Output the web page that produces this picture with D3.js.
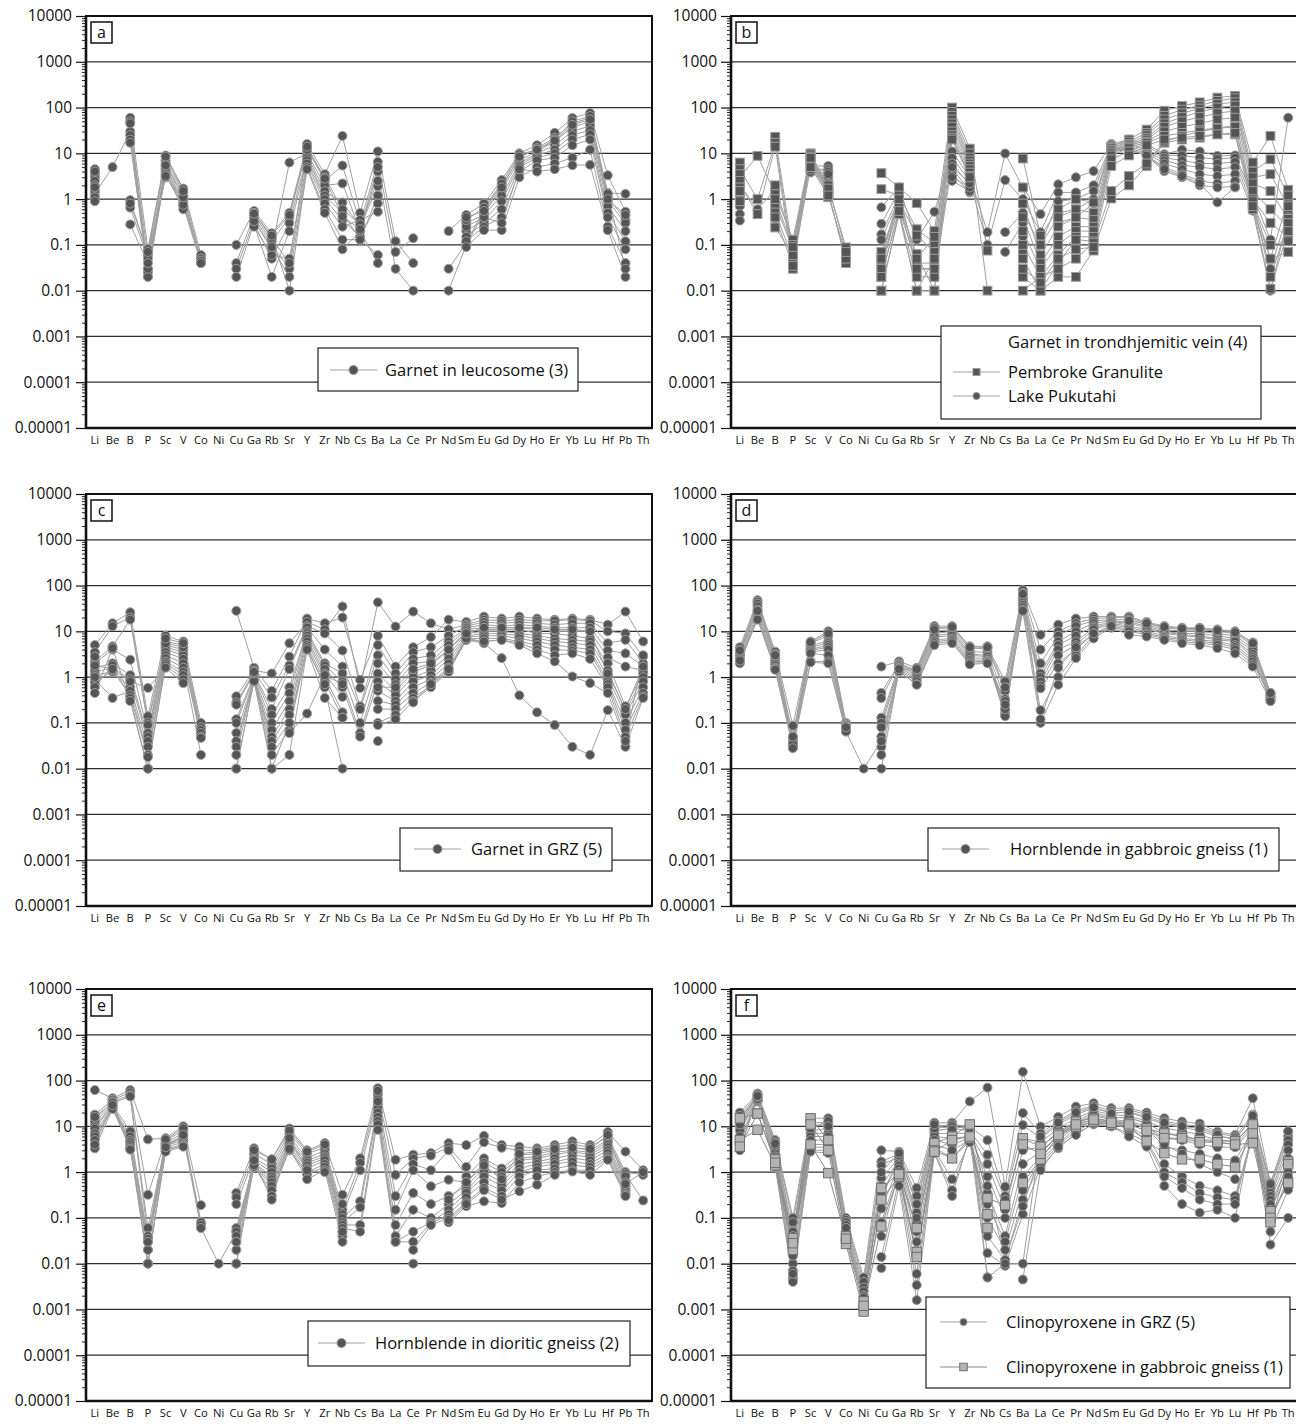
<!DOCTYPE html>
<html>
<head>
<meta charset="utf-8">
<script src="https://cdn.jsdelivr.net/npm/d3@7"></script>
<style>
  body { margin: 0; background: #fff; }
  svg { display: block; }
</style>
</head>
<body>
<svg id="chart" width="1296" height="1425"></svg>
<script>
// Trace-element spider diagrams (mineral / chondrite-normalised), log scale.
const _ = null;

const elements = ["Li","Be","B","P","Sc","V","Co","Ni","Cu","Ga","Rb","Sr","Y","Zr","Nb","Cs",
                  "Ba","La","Ce","Pr","Nd","Sm","Eu","Gd","Dy","Ho","Er","Yb","Lu","Hf","Pb","Th"];

const yTickValues = [10000, 1000, 100, 10, 1, 0.1, 0.01, 0.001, 0.0001, 0.00001];
const yTickLabels = ["10000", "1000", "100", "10", "1", "0.1", "0.01", "0.001", "0.0001", "0.00001"];

// Each row: one analysis, values in the order of `elements` (null = not detected)
const garnetLeucosome = [
  [4.5,_,60,0.08, 9,1.7,0.06,_, 0.1,0.55,0.18,0.5, 16,3.5,24,0.5, 11,0.12,0.04,_, 0.2,0.45,0.8,2.6, 10,15,28,59, 76,3.3,0.53,_],
  [1.3,5,30,0.06, 7,1.4,0.05,_, 0.04,0.45,0.12,0.4, 13,2.5,5.4,0.3, 6.5,0.07,0.14,_, 0.03,0.11,0.6,2.0, 8,13,22,45, 60,1.37,1.3,_],
  [3.5,_,50,0.03, 6,1.2,0.04,_, 0.03,0.35,0.08,6.3, 10,2,2.2,0.2, 4,0.03,0.01,_, 0.01,0.1,0.5,1.6, 7,11,18,38, 48,1.1,0.35,_],
  [3,_,45,0.02, 5,0.9,0.05,_, 0.02,0.3,0.05,0.3, 9,1.5,0.84,0.25, 1.9,_,_,_, _,0.3,0.45,1.2, 6,10,15,30, 40,0.9,0.3,_],
  [2.5,_,25,0.025, 4.5,0.8,0.045,_, _,0.28,0.02,0.2, 8,1.2,0.5,0.13, 1.2,_,_,_, _,0.2,0.35,0.9, 5.5,9,12,25, 32,0.7,0.2,_],
  [2,_,20,0.02, 4,0.7,0.04,_, _,0.25,0.06,0.05, 7,1,0.35,0.15, 0.8,_,_,_, _,0.15,0.3,0.6, 5,8,10,20, 26,0.5,0.12,_],
  [1.5,_,17,0.03, 3.5,0.6,_,_, _,0.4,0.1,0.03, 6,0.8,0.25,0.35, 0.53,_,_,_, _,0.12,0.25,0.4, 4,7,8,15, 20,0.4,0.08,_],
  [1.1,_,0.95,0.06, 3,1,_,_, _,0.5,0.15,0.01, 5,0.6,0.13,0.13, 0.06,_,_,_, _,0.09,0.21,0.21, 3,5,6,8, 12,0.25,0.04,_],
  [0.9,_,0.65,0.05, 3.2,0.75,_,_, _,0.33,0.09,0.02, 4.5,0.5,0.08,0.2, 0.04,_,_,_, _,0.25,0.4,0.3, 4.5,4,4.5,5.5, 5.6,0.21,0.02,_],
  [4,_,0.28,0.04, 5.5,1.1,_,_, _,0.5,0.14,0.04, 12,3,0.6,0.28, 2.5,_,_,_, _,0.35,0.65,2.2, 9.5,12,20,50, 65,1.3,0.03,_],
  [1.8,_,0.8,0.07, 8.5,1.5,_,_, _,0.48,0.16,0.45, 14,2.8,0.42,0.22, 5,_,_,_, _,0.4,0.55,1.8, 8.5,12,19,42, 55,1,0.45,_]
];

const garnetPembroke = [
  [3,8.8,1.3,0.13, 10,1.8,0.088,_, 3.7,1.8,0.82,0.2, 100,12.7,0.075,_, 7.7,0.16,0.6,1.0, 0.85,14,20,33, 85,108,130,165, 180,6.3,24,1.6],
  [6.3,_,23,0.07, 9,1.2,0.06,_, 1.65,1.2,0.22,0.11, 80,10,0.01,_, 1.8,0.1,0.4,0.6, 0.5,13,18,28, 66,90,110,140, 160,4,7.4,1.2],
  [4.5,1,17,0.045, 8,1.5,0.04,_, 0.07,0.9,0.16,0.07, 66,8.1,_,_, 0.8,0.06,0.25,0.4, 0.35,12,16,25, 55,75,95,120, 130,3,3.5,0.7],
  [2.1,0.47,14,0.03, 7.4,1.3,0.05,_, 0.04,0.7,0.063,0.01, 55,7,_,_, 0.4,0.04,0.15,0.25, 0.25,11,15,22, 45,62,80,100, 110,2.2,1.5,0.37],
  [3.5,_,2,0.1, 9.5,2,0.07,_, 0.02,0.6,0.04,0.04, 45,6,_,_, 0.2,0.03,0.1,0.2, 0.2,10,14,20, 38,50,62,75, 85,1.5,0.6,0.25],
  [2.5,_,0.78,0.08, 8.5,1.6,_,_, 0.01,0.5,0.02,0.02, 38,5.3,_,_, 0.1,0.02,0.06,0.15, 0.15,9,13,18, 30,38,45,55, 60,1,0.3,0.15],
  [1.8,_,0.51,0.05, 7,1.4,_,_, 0.01,0.47,0.01,0.05, 30,4.5,_,_, 0.05,0.01,0.04,0.13, 0.12,7.4,11,17, 24,28,32,36, 40,0.8,0.1,0.12],
  [1.2,_,0.24,0.06, 6.5,1.1,_,_, 0.03,0.8,0.03,0.03, 25,3.8,_,_, 0.02,0.01,0.02,0.02, 0.075,1.03,2,5.3, 17,20,22,26, 26,0.6,0.05,0.07],
  [0.9,_,1.0,0.09, 8,1.7,_,_, 0.05,1.0,0.05,0.15, 22,3.2,_,_, 0.01,0.02,0.03,0.05, 0.11,1.5,3.2,6, 18,24,30,35, 38,0.9,0.02,0.3],
  [1.5,_,0.4,0.035, 5,1.2,_,_, 0.02,0.55,0.01,0.01, 20,3,_,_, 0.03,0.015,0.05,0.08, 0.09,5.3,9,15, 20,22,24,26, 28,0.7,0.011,0.2]
];

const garnetPukutahi = [
  [2,0.6,1.6,_, 5.3,5.3,_,_, 0.66,1.8,0.13,0.53, 11,3,0.19,9.9, 1.8,0.47,2.1,3, 4.1,16,20,16, 9.6,12,11,8.8, 9,1.2,0.13,60],
  [1.4,_,0.37,_, 3.8,3.8,_,_, 0.29,1.5,0.03,0.03, 8,2.5,0.1,2.6, 1,0.19,1.4,1.4, 2,15,18,14, 9,9,8,7.5, 8,0.9,0.05,1],
  [1,_,_,_, 4.5,4.5,_,_, 0.17,1.2,_,0.02, 6,2,_,0.19, 0.5,0.1,0.9,1, 1.5,14,16,12, 8,7,6,6, 6.5,0.7,0.03,0.5],
  [0.7,_,_,_, 4,2.5,_,_, 0.13,1,_,_, 4.5,1.6,_,0.07, 0.3,_,0.5,0.6, 1,13.4,14,11, 7,5.5,5,4.5, 5,0.56,0.01,0.4],
  [0.47,_,_,_, 4.2,3,_,_, 0.05,1.3,_,_, 3.5,1.4,_,_, 0.15,_,0.3,0.4, 0.8,13,13,10, 6,4.5,3.5,3.2, 3.5,_,_,_],
  [0.34,_,_,_, 3.9,2.2,_,_, 0.03,1.1,_,_, 2.5,1.5,_,_, 0.07,_,_,_, _,12,12.3,9, 5,3.5,2.5,2.2, 2.5,_,_,_],
  [1.2,_,_,_, 4.8,4,_,_, _,1.6,_,_, 3,1.8,_,_, 0.03,_,_,_, _,12.5,12.5,8.8, 4.1,3,2,1.8, 1.9,_,_,_],
  [0.9,_,_,_, 4.4,3.5,_,_, _,1.4,_,_, 5,2.2,_,_, 0.5,_,_,_, _,11,12,9, 4.5,3.2,2.2,0.85, 1.8,_,_,_]
];

const garnetGRZ = [
  [5,15,26,0.14, 8,6,0.1,_, 28,1.6,0.5,2.8, 19,15,20,0.87, 8,1.7,4.5,7.5, 18,16,21,19, 21,19,18,19, 18,14,27,6],
  [3.5,13,20,0.1, 6,5,0.08,_, 0.38,1.4,1.2,5.5, 16,11,35,0.58, 43,12.7,27,15, 11,14,18,17, 18,17,17,18, 17,10,9,2.8],
  [2.2,4.7,18,0.09, 5,4,0.07,_, 0.28,1.3,0.36,1.8, 13,9,3.8,0.23, 5,1.2,3.5,4.5, 8,13,16,15, 16,15,14,15, 15,5.5,6.5,2],
  [2,4,2.4,0.06, 4.5,3.5,0.06,_, 0.25,1.2,0.2,1.5, 12,4,1.7,0.2, 3,0.9,2.5,3, 6,12,14,13, 14,13,12,12, 12,3.8,3.3,1.7],
  [1.6,2,1.1,0.05, 4,3,0.05,_, 0.12,1.1,0.15,0.6, 10,2,1.2,0.1, 2,0.7,2,2.2, 5,11,12,12, 12,11,10,10, 10,2.7,1.7,1.4],
  [1.3,1.6,0.9,0.04, 3.5,2.5,0.047,_, 0.1,1,0.1,0.45, 9,1.8,0.8,0.06, 1.2,0.5,1.3,1.8, 4,10,11,11, 11,9,9,8, 7,2,0.23,1.2],
  [1.1,1.3,0.6,0.03, 3,2,0.02,_, 0.06,0.9,0.07,0.3, 8,1.5,0.6,0.05, 0.8,0.4,1,1.4, 3,9,10,10, 9,8,7,6.5, 6,1.4,0.18,1],
  [0.9,0.35,0.5,0.02, 2.6,1.6,_,_, 0.04,0.8,0.05,0.2, 7,1.2,0.37,_, 0.5,0.3,0.8,1.1, 2.5,8,9,9, 8,7,6,5.5, 5,1,0.15,0.8],
  [0.75,1.4,0.4,0.018, 2.2,1.3,_,_, 0.03,1.0,0.04,0.15, 6,1,0.17,_, 0.3,0.25,0.6,0.9, 2,7.5,8,8, 7,6,5,4.5, 4,0.8,0.1,0.6],
  [0.6,1.8,0.35,0.01, 2,1.1,_,_, 0.02,0.95,0.03,0.1, 5,0.8,0.13,_, 0.2,0.2,0.45,0.75, 1.6,7,7,7, 6,5,4,3.8, 3.3,0.7,0.07,0.45],
  [0.45,4.3,0.3,0.01, 1.8,0.9,_,_, 0.01,0.85,0.02,0.07, 4.5,0.6,0.01,_, 0.1,0.15,0.35,0.65, 1.4,6.5,6,6.5, 5.5,4,3,3.3, 2.5,0.6,0.05,0.38],
  [1.8,1.5,0.8,0.58, 1.6,0.74,_,_, 0.01,0.82,0.01,0.02, 4,0.35,0.13,_, 0.09,0.12,0.3,0.6, 1.3,6.5,5.5,2.6, 0.4,0.17,0.09,0.03, 0.02,0.19,0.03,0.35],
  [2.8,_,_,_, 5.5,4.5,_,_, _,1.2,0.01,0.1, 4,0.7,_,_, 0.04,_,0.28,0.7, 1.5,7,6,6.5, 5,3.3,2.2,1.03, 0.74,0.45,0.04,3],
  [1,_,_,_, 7,5.5,_,_, _,1.3,_,0.06, 0.16,1.1,0.7,_, 0.6,0.6,1.5,2, 4,9,12,12, 12,12,11,11, 10,1.2,0.2,1.7]
];

const hornblendeGabbroic = [
  [4.5,48,3.6,0.087, 6,10,0.1,_, 1.7,2.2,1.6,13, 13,4.7,4.7,0.8, 80,8.4,14,19, 21,21,21,16, 13,12,12,11, 10,5.7,0.45,_],
  [4,44,3.2,0.05, 5.5,8,0.095,_, 0.45,2,1.4,12, 12,4.2,4.2,0.5, 70,4,10,15, 19,20,20,15, 12,11,11,10, 9,5,0.4,_],
  [3.5,40,2.8,0.04, 5,6,0.09,_, 0.35,1.9,1.3,10, 11,3.6,3.5,0.33, 60,2,8,13, 17,18,18,14, 11,10,10,9, 8,4.3,0.38,_],
  [3.2,35,2.5,0.035, 4.5,5.5,0.085,_, 0.13,1.8,1.2,9, 10,3.2,3,0.2, 55,1.2,6,10, 15,17,16,13, 10,9,9,8, 7,3.8,0.35,_],
  [3,30,2.2,0.03, 4,5,0.08,_, 0.1,1.7,1.1,8, 9,3,2.8,0.17, 48,1,5,8, 13,16,15,12, 9.5,8.5,8,7, 6.5,3.2,0.32,_],
  [2.7,25,2,0.03, 3.8,4.5,0.075,_, 0.08,1.6,1,7.5, 8,2.7,2.5,0.15, 42,0.8,4,6, 12,15,13,11, 9,8,7.5,6.5, 6,2.8,0.3,_],
  [2.5,22,1.8,0.045, 3.5,4,0.07,_, 0.05,1.5,0.9,6.5, 7,2.4,2.3,0.14, 38,0.65,3,5, 11,14,12,10, 8,7,6.5,6, 5,2.5,0.33,_],
  [2.2,20,1.6,0.04, 3.3,3,0.068,_, 0.03,1.4,0.8,6, 6.5,2.2,2.2,0.2, 34,0.57,2,4, 9,13,11,9, 7.5,6.5,6,5.5, 4.5,2.2,0.36,_],
  [2,19,1.5,0.035, 2.2,2.2,0.065,_, 0.02,1.3,0.7,5.5, 6,2,2.1,0.3, 30,0.19,1,3, 8,12.5,10,8.5, 7,6,5.5,5, 4,1.9,0.42,_],
  [2.3,18,1.45,0.028, 2.1,2,0.065,0.01, 0.04,1.35,0.68,5, 5.5,1.9,2,0.25, 28,0.1,0.68,2.6, 7,12,8.4,7.7, 6.5,5.5,5,4.3, 3.3,1.7,0.3,_],
  [3.8,28,3,0.05, 5.8,9,0.08,_, 0.01,1.5,1.5,11, 12.5,4.5,4.5,0.6, 65,0.12,1.6,4.5, 9,13,17,15, 12.5,11.5,11.5,10.5, 9.5,5.5,0.45,_]
];

const hornblendeDioritic = [
  [62,41,62,5.2, 5.5,10,0.19,_, 0.35,3.3,1.9,9, 3,4.3,0.32,2, 68,1.86,2.4,2.6, 4.3,3.9,6.2,3.9, 3.6,3.3,3.9,4.7, 3.9,7.5,2.8,1.1],
  [18,38,55,0.32, 5,8,0.08,_, 0.28,2.5,1.5,7, 2.5,3.5,0.15,1.6, 50,0.87,2,2.3, 3.5,1.3,4.5,3.4, 3,3,3.5,4, 3.5,6,1,0.87],
  [14,35,48,0.06, 4.5,7,0.07,_, 0.2,2,1.2,6, 2,3,0.12,1.1, 40,0.3,1.5,1.1, 3,0.8,2,1.2, 2.4,2.5,3,3.5, 3,5,0.9,0.24],
  [12,32,45,0.04, 4.2,6,0.06,0.01, 0.05,1.8,1,5, 1.8,2.5,0.1,0.23, 30,0.15,1.1,0.49, 0.68,0.6,1.6,1, 2,2.2,2.7,3, 2.7,4.5,0.8,_],
  [10,30,7.7,0.035, 4,5.5,_,_, 0.06,1.6,0.8,4.5, 1.6,2.2,0.08,0.17, 25,0.07,0.35,0.2, 0.3,0.5,1.2,0.8, 1.8,2,2.4,2.8, 2.4,4,0.6,_],
  [9,28,6,0.03, 3.8,5,_,_, 0.05,1.5,0.7,4, 1.4,2,0.07,0.07, 20,0.04,0.15,0.1, 0.2,0.4,1,0.6, 1.5,1.7,2,2.4, 2.1,3.5,0.5,_],
  [7,27,5,0.02, 3.5,4.5,_,_, 0.04,1.4,0.6,3.6, 1.2,1.8,0.06,0.05, 16,0.03,0.05,0.08, 0.15,0.35,0.8,0.5, 1.2,1.5,1.7,2, 1.8,3,0.45,_],
  [6,26,4.5,0.01, 3.2,4,_,_, 0.03,1.4,0.5,3.3, 1,1.5,0.05,_, 13,0.03,0.03,0.075, 0.12,0.28,0.6,0.4, 1,1.3,1.5,1.7, 1.5,2.6,0.4,_],
  [5,25,4,0.01, 3,3.8,_,_, 0.02,1.3,0.4,3, 0.9,1.3,0.04,_, 11,_,0.02,0.07, 0.1,0.22,0.45,0.3, 0.8,1.1,1.2,1.4, 1.3,2.2,0.35,_],
  [3.3,24,3.5,0.01, 2.8,3.6,_,_, 0.01,1.4,0.3,3.2, 0.7,1.1,0.03,_, 8.4,_,0.01,_, 0.08,0.18,0.23,0.21, 0.6,0.8,1,1.1, 1.1,2,0.32,_],
  [16,33,3.2,0.02, 5.2,9,_,_, 0.01,3,1.9,8, 2.8,4,0.05,_, 60,_,_,_, 0.09,0.2,0.4,0.25, 0.38,0.53,0.87,1.03, 0.87,1.86,0.3,_],
  [4,29,3.1,0.03, 3.5,6.5,_,_, 0.03,1.8,0.25,5.5, 1.1,1,0.2,_, 35,_,_,_, 0.25,0.6,1.4,0.7, 2.5,2.8,3.2,3.4, 3.2,6.5,0.55,1]
];

const cpxGRZ = [
  [20,52,5,0.1, 15,15,0.1,0.005, 3,2.8,0.45,12, 12,35,70,0.48, 155,9.9,16,27, 32,25,25,20, 15,12.7,11.5,7.6, 6.5,41,0.58,7.6],
  [17,48,4.5,0.08, 12,12,0.09,0.004, 1.7,2.5,0.3,10, 11,10,5,0.3, 19.5,7,13,22, 28,22,23,18, 13,11,10,7, 6,18,0.5,6],
  [14,45,4,0.05, 10,11,0.08,0.003, 1.4,2.2,0.2,8, 9,8,2.4,0.25, 10.7,5.5,11,18, 25,20,20,15, 11,9.5,8,6, 5.5,15,0.45,5],
  [12,42,3.5,0.03, 8,9,0.07,0.0025, 0.75,2,0.13,7, 7,7,1.5,0.15, 5.5,4.5,9,15, 22,18,17,13, 9,8,6.5,5, 4.5,12,0.35,4],
  [10,40,3,0.02, 7,7,0.06,0.002, 0.5,1.8,0.08,6, 5.5,6,0.8,0.1, 3,3.5,7.5,13, 20,16,15,12, 7,6.5,5,4.5, 4,10,0.3,3],
  [9,38,2.6,0.01, 6,6,0.05,0.002, 0.35,1.6,0.05,5, 4,5.5,0.35,0.04, 1.5,2.8,6,11, 17,14,13,10, 5.5,5,4,3.5, 3.5,9,0.25,2],
  [8,36,2.2,0.007, 5,5,0.045,0.0018, 0.16,1.4,0.03,4, 3,5,0.2,0.03, 0.8,2.2,5,10, 15,13,12,9, 3.6,3,2.5,2, 1.8,8,0.2,1.5],
  [6,35,2,0.005, 4,4,0.04,_, 0.08,1.2,0.015,3.5, 2,4.8,0.1,0.02, 0.4,1.8,4.2,9, 13,12,10,6, 1.5,0.8,0.5,0.4, 0.3,7,0.15,1],
  [4.5,37,1.6,0.0045, 3.5,3.5,_,_, 0.04,1,0.006,3, 0.7,4.5,0.04,0.012, 0.25,1.5,3.8,8, 12,11,9,5, 1,0.6,0.35,0.28, 0.25,6,0.1,0.6],
  [3.5,39,1.4,0.004, 3,3,_,_, 0.014,0.7,0.0034,2.8, 0.4,5.5,0.017,0.009, 0.12,1.3,3.3,7, 11,10,7,4.5, 0.8,0.45,0.25,0.2, 0.2,7.5,0.05,0.41],
  [3,44,1.3,0.006, 2.8,2.6,_,_, 0.008,0.5,0.0016,2.6, 0.3,6,0.005,_, 0.0045,1.1,3.6,6.5, 11.5,10,6,3.6, 0.5,0.2,0.13,0.15, 0.1,9,0.026,0.1],
  [11,50,3.8,0.015, 9,13,0.06,_, 0.25,2.3,0.1,9, 10,9,0.5,0.012, 0.18,2.5,6.5,12, 18,15,16,11, 4,2.5,1.5,1, 0.7,14,0.08,0.8],
  [15,46,4.2,0.04, 11,10,_,_, 1,2.6,0.2,11, 8.5,11,0.005,0.01, 0.01,6,12,20, 26,19,21,16, 12,10,9,6.5, 5,17,0.55,7.8]
];

const cpxGabbroic = [
  [15,19,1.9,0.036, 15,5,0.04,0.0015, 0.45,0.95,0.06,4.3, 6,11,0.27,0.19, 5.5,3.6,7,12.7, 15,12.7,12,9, 7,6,5,5, 4.7,11,0.14,1.7],
  [5,8.4,1.4,0.02, 11,3,0.027,0.0009, 0.25,0.8,0.018,3, 2,5.5,0.12,_, 0.58,1.9,6,9.9, 12.7,11,10,4.7, 2.6,1.9,1.9,1.5, 1.3,7,0.1,0.58],
  [3.6,19,1.6,0.028, 4,0.95,0.035,0.0012, 0.065,0.9,0.014,2.8, 5,6,0.06,_, 4,2.5,6.5,11, 14,12,11,8, 5.5,5.5,4.5,4.5, 4,4.3,0.08,1.5]
];

// ---------------------------------------------------------------------------
const FONT = "'Open Sans', 'Noto Sans', sans-serif";
const plotW = 566, plotH = 412;

const markerStyles = {
  circle:      { shape: "circle", r: 4.5, fill: "#555555", stroke: "#9c9c9c", line: "#a0a0a0" },
  square:      { shape: "square", s: 8.8, fill: "#555555", stroke: "#9c9c9c", line: "#a0a0a0" },
  squareLight: { shape: "square", s: 9.4, fill: "#b4b4b4", stroke: "#6f6f6f", line: "#8c8c8c" }
};

const panels = [
  { letter: "a", left: 86, top: 16,
    series: [{ rows: garnetLeucosome, style: "circle" }],
    legend: { x: 318, y: 348, w: 260, h: 43,
      items: [{ label: "Garnet in leucosome (3)", style: "circle", sx: 330, tx: 385, cy: 370 }] } },
  { letter: "b", left: 731, top: 16,
    series: [{ rows: garnetPukutahi, style: "circle" }, { rows: garnetPembroke, style: "square" }],
    legend: { x: 941, y: 326, w: 320, h: 93,
      title: { label: "Garnet in trondhjemitic vein (4)", tx: 1008, cy: 342 },
      items: [{ label: "Pembroke Granulite", style: "square", sx: 953, tx: 1008, cy: 372, small: true },
              { label: "Lake Pukutahi", style: "circle", sx: 953, tx: 1008, cy: 396, small: true }] } },
  { letter: "c", left: 86, top: 494,
    series: [{ rows: garnetGRZ, style: "circle" }],
    legend: { x: 400, y: 828, w: 212, h: 43,
      items: [{ label: "Garnet in GRZ (5)", style: "circle", sx: 414, tx: 471, cy: 849 }] } },
  { letter: "d", left: 731, top: 494,
    series: [{ rows: hornblendeGabbroic, style: "circle" }],
    legend: { x: 928, y: 828, w: 351, h: 43,
      items: [{ label: "Hornblende in gabbroic gneiss (1)", style: "circle", sx: 942, tx: 1010, cy: 849 }] } },
  { letter: "e", left: 86, top: 989,
    series: [{ rows: hornblendeDioritic, style: "circle" }],
    legend: { x: 308, y: 1321, w: 322, h: 45,
      items: [{ label: "Hornblende in dioritic gneiss (2)", style: "circle", sx: 318, tx: 375, cy: 1343 }] } },
  { letter: "f", left: 731, top: 989,
    series: [{ rows: cpxGRZ, style: "circle" }, { rows: cpxGabbroic, style: "squareLight" }],
    legend: { x: 926, y: 1297, w: 364, h: 91,
      items: [{ label: "Clinopyroxene in GRZ (5)", style: "circle", sx: 940, tx: 1006, cy: 1322, small: true },
              { label: "Clinopyroxene in gabbroic gneiss (1)", style: "squareLight", sx: 940, tx: 1006, cy: 1367, small: true }] } }
];

const svg = d3.select("#chart");

const x = d3.scaleBand().domain(elements).range([0, plotW]);
const cx = i => x(elements[i]) + x.bandwidth() / 2;
const y = d3.scaleLog().domain([1e-5, 1e4]).range([plotH, 0]);

// minor log ticks 2..9 within each decade
const minorTicks = [];
for (let k = -5; k < 4; k++) for (let m = 2; m <= 9; m++) minorTicks.push(m * Math.pow(10, k));

function drawMarker(g, style, px, py, scale = 1) {
  const st = markerStyles[style];
  if (st.shape === "circle") {
    g.append("circle").attr("cx", px).attr("cy", py).attr("r", st.r * scale)
      .attr("fill", st.fill).attr("stroke", st.stroke).attr("stroke-width", 1);
  } else {
    const s = st.s * scale;
    g.append("rect").attr("x", px - s / 2).attr("y", py - s / 2).attr("width", s).attr("height", s)
      .attr("fill", st.fill).attr("stroke", st.stroke).attr("stroke-width", 1);
  }
}

const line = d3.line()
  .defined(d => d.v != null)
  .x(d => cx(d.i))
  .y(d => y(d.v));

panels.forEach(p => {
  const g = svg.append("g").attr("transform", `translate(${p.left},${p.top})`);

  // horizontal gridlines at each decade
  g.append("g").selectAll("line")
    .data(yTickValues.slice(1, -1))
    .join("line")
    .attr("x1", 0).attr("x2", plotW)
    .attr("y1", d => y(d)).attr("y2", d => y(d))
    .attr("stroke", "#2e2e2e").attr("stroke-width", 1.3);

  // y axis: minor then major ticks with labels
  const minorAxis = g.append("g").call(d3.axisLeft(y).tickValues(minorTicks).tickSize(4).tickFormat(""));
  minorAxis.select(".domain").remove();
  minorAxis.selectAll("line").attr("stroke", "#222");

  const majorAxis = g.append("g").call(
    d3.axisLeft(y).tickValues(yTickValues).tickSize(10).tickPadding(4)
      .tickFormat((d, i) => yTickLabels[i]));
  majorAxis.select(".domain").remove();
  majorAxis.selectAll("line").attr("stroke", "#111").attr("stroke-width", 1.2);
  majorAxis.selectAll("text")
    .attr("font-family", FONT).attr("font-size", 15.5).attr("fill", "#111");

  // category labels
  g.append("g").selectAll("text")
    .data(elements)
    .join("text")
    .attr("x", (d, i) => cx(i))
    .attr("y", plotH + 16)
    .attr("text-anchor", "middle")
    .attr("font-family", FONT).attr("font-size", 11.2).attr("fill", "#111")
    .text(d => d);

  // data: lines first, then markers
  const dataG = g.append("g");
  p.series.forEach(s => {
    const st = markerStyles[s.style];
    s.rows.forEach(row => {
      const pts = row.map((v, i) => ({ i, v }));
      dataG.append("path").attr("d", line(pts))
        .attr("fill", "none").attr("stroke", st.line).attr("stroke-width", 1);
    });
  });
  p.series.forEach(s => {
    s.rows.forEach(row => {
      row.forEach((v, i) => { if (v != null) drawMarker(dataG, s.style, cx(i), y(v)); });
    });
  });

  // plot frame
  g.append("rect").attr("x", 0).attr("y", 0).attr("width", plotW).attr("height", plotH)
    .attr("fill", "none").attr("stroke", "#111").attr("stroke-width", 2);
  g.append("line").attr("x1", 0).attr("x2", 0).attr("y1", 0).attr("y2", plotH)
    .attr("stroke", "#111").attr("stroke-width", 2.6);
  g.append("line").attr("x1", 0).attr("x2", plotW).attr("y1", plotH).attr("y2", plotH)
    .attr("stroke", "#111").attr("stroke-width", 2.6);

  // panel letter
  g.append("rect").attr("x", 5).attr("y", 6).attr("width", 21).attr("height", 21)
    .attr("fill", "#fff").attr("stroke", "#111").attr("stroke-width", 1.5);
  g.append("text").attr("x", 15.5).attr("y", 22).attr("text-anchor", "middle")
    .attr("font-family", FONT).attr("font-size", 16).attr("fill", "#111").text(p.letter);

  // legend
  const L = p.legend;
  const lg = svg.append("g");
  lg.append("rect").attr("x", L.x).attr("y", L.y).attr("width", L.w).attr("height", L.h)
    .attr("fill", "#fff").attr("stroke", "#222").attr("stroke-width", 1.2);
  if (L.title) {
    lg.append("text").attr("x", L.title.tx).attr("y", L.title.cy + 6)
      .attr("font-family", FONT).attr("font-size", 16.5).attr("fill", "#111").text(L.title.label);
  }
  L.items.forEach(it => {
    const st = markerStyles[it.style];
    lg.append("line").attr("x1", it.sx).attr("x2", it.sx + 47)
      .attr("y1", it.cy).attr("y2", it.cy)
      .attr("stroke", st.line).attr("stroke-width", 1);
    drawMarker(lg, it.style, it.sx + 23.5, it.cy, it.small ? 0.8 : 1);
    lg.append("text").attr("x", it.tx).attr("y", it.cy + 6)
      .attr("font-family", FONT).attr("font-size", 16.5).attr("fill", "#111").text(it.label);
  });
});
</script>
</body>
</html>
